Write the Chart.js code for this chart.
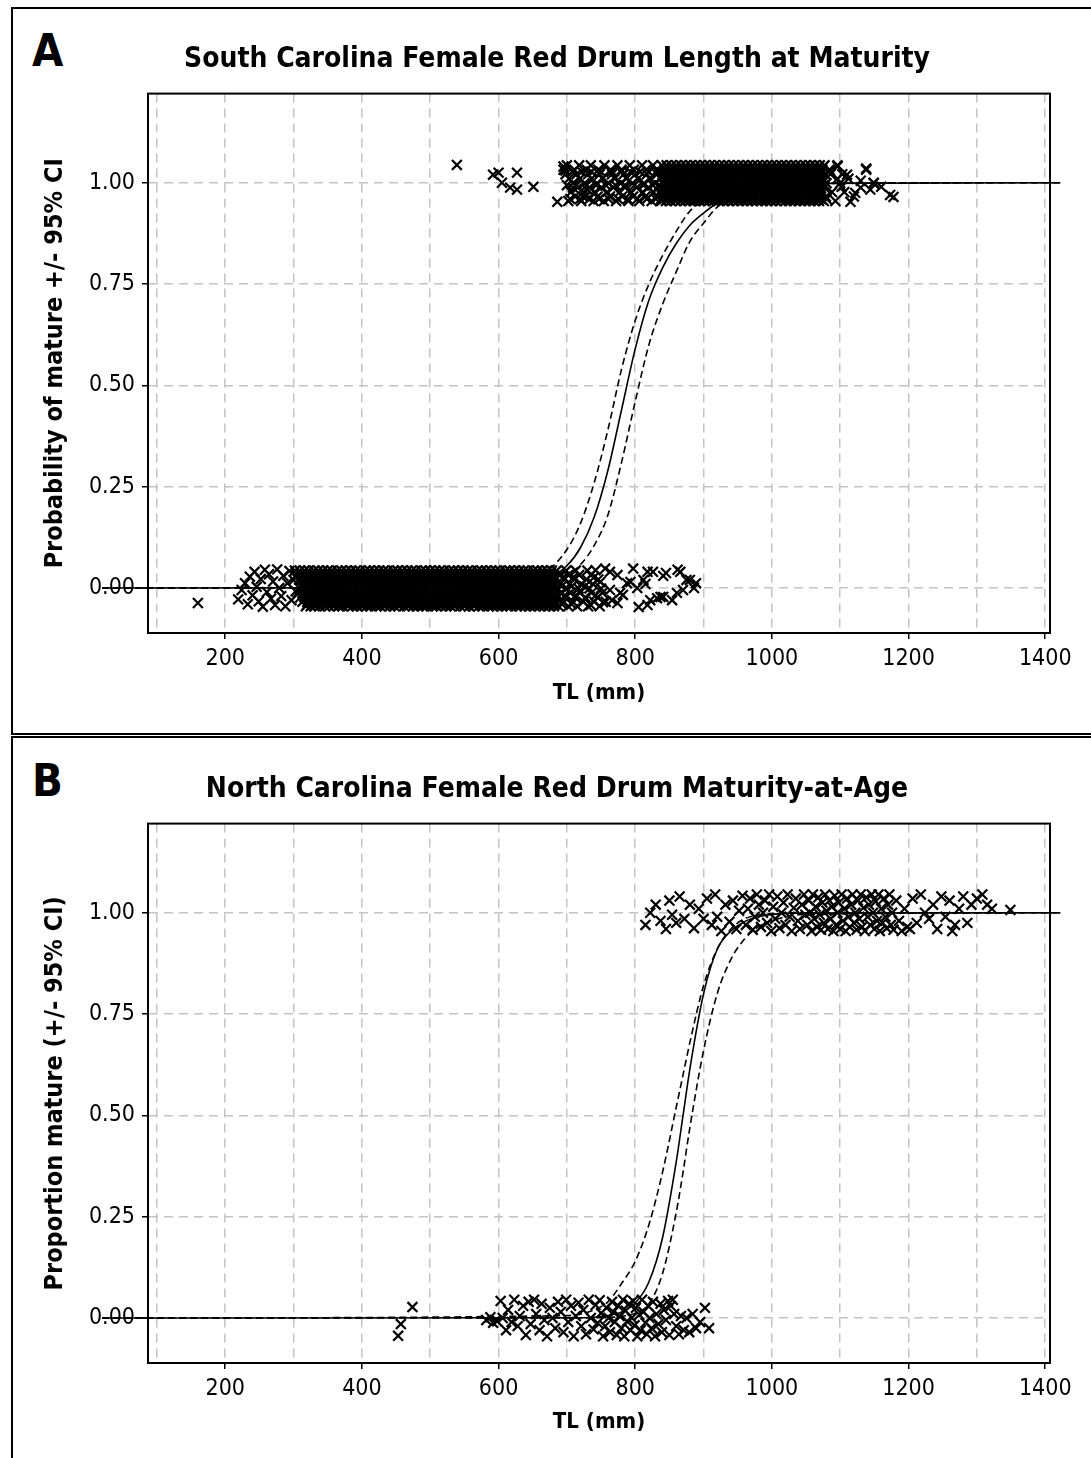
<!DOCTYPE html>
<html>
<head>
<meta charset="utf-8">
<title>Red Drum maturity</title>
<script src="https://cdn.jsdelivr.net/npm/chart.js"></script>
<style>
  html, body { margin: 0; padding: 0; background: #fff; overflow: hidden; }
  body { width: 1091px; height: 1458px; position: relative; font-family: 'DejaVu Sans Condensed', 'DejaVu Sans', sans-serif; }
  .panel { position: absolute; left: 11px; width: 1200px; border: 2px solid #000; box-sizing: border-box; }
  #boxA { top: 7px; height: 728px; }
  #boxB { top: 736px; height: 800px; }
  .letter { position: absolute; left: 32px; font-size: 45px; font-weight: bold; line-height: 1; }
  canvas { position: absolute; left: 12px; }
</style>
</head>
<body>
<div class="panel" id="boxA"></div>
<div class="panel" id="boxB"></div>
<div class="letter" style="top:28px">A</div>
<div class="letter" style="top:758px">B</div>
<canvas id="chartA" width="1079" height="725" style="top:8px"></canvas>
<canvas id="chartB" width="1079" height="720" style="top:738px"></canvas>

<script>
// axis ticks
const xGrid = [100, 200, 300, 400, 500, 600, 700, 800, 900, 1000, 1100, 1200, 1300, 1400];
const yTicks = [0, 0.25, 0.5, 0.75, 1];

// ---- South Carolina (A) ----
// jitter levels for the packed bands, and x (mm) of the crosses on each level
const scLowLevels = [-0.045, -0.034, -0.023, -0.012, -0.001, 0.010, 0.021, 0.032, 0.043, -0.040, -0.018, 0.004, 0.027];
const scLowRows = [
  [318,325,331,338,346,352,359,366,372,380,386,393,400,407,413,421,427,434,441,448,454,462,468,475,482,489,495,503,509,516,523,530,536,544,550,557,564,571,577,585,591,598,605,612,618,626,632,639,646,653,660,667,674,681,688,702,715,731,748],
  [313,320,328,334,341,349,355,362,369,376,383,389,397,403,410,417,424,431,437,445,451,458,465,472,478,486,492,499,506,513,519,527,533,540,547,554,560,568,574,581,588,595,601,609,615,622,629,636,642,650,656,663,670,677,684,694,709,724,740,757],
  [310,316,323,330,336,344,351,357,364,371,378,385,391,398,405,412,418,426,432,439,446,453,459,467,473,480,487,494,500,508,514,521,528,535,541,549,555,562,569,576,582,590,596,603,610,617,623,631,637,644,651,658,664,672,678,687,698,712,727,745],
  [306,314,321,327,334,340,348,354,361,368,374,382,388,395,402,409,415,423,429,436,443,450,456,463,470,477,483,491,497,504,511,518,524,532,538,545,552,559,565,573,579,586,593,600,606,614,620,627,634,641,647,655,661,668,675,682,691,705,719,736,752],
  [309,317,324,331,337,345,352,358,365,372,379,386,392,399,406,413,419,427,433,440,447,454,460,468,474,481,488,495,501,509,515,522,529,536,542,550,556,563,570,577,583,591,597,604,611,618,624,632,638,645,652,659,665,673,679,686,700,717,733,750],
  [312,319,326,333,339,347,353,360,367,374,380,388,394,401,408,415,421,428,435,442,449,455,462,469,476,483,489,496,503,510,517,523,531,537,544,551,558,564,572,578,585,592,599,605,613,619,626,633,640,646,654,660,667,674,681,690,704,721,738],
  [308,315,322,329,335,343,350,356,363,370,377,384,390,397,404,411,417,425,431,438,445,452,458,466,472,479,486,493,499,507,513,520,527,534,540,548,554,561,568,575,581,589,595,602,609,616,622,630,636,643,650,657,663,671,677,684,696,711,729,746],
  [304,311,318,325,332,339,346,353,359,366,373,381,387,394,400,408,414,422,428,435,442,449,455,463,469,476,483,490,496,504,510,517,524,531,537,545,551,558,565,572,578,586,592,599,606,613,619,627,633,640,647,654,660,668,674,681,689,702,718,735],
  [302,309,316,322,330,336,343,350,356,364,370,377,384,391,397,405,411,418,425,432,438,446,452,459,466,473,479,487,493,500,507,514,520,528,534,541,548,555,561,569,575,582,589,596,602,610,616,623,630,637,643,651,657,664,671,678,685,699,713,730],
  [320,329,335,344,350,361,367,377,382,391,399,404,414,420,430,436,444,452,457,467,472,481,488,496,502,511,518,524,533,539,547,553,562,567,576,583,590,597,604,611,619,625,634,640,648,655,662,669,676,683,693,707],
  [315,324,333,340,347,356,363,371,377,386,392,401,409,415,424,430,439,444,453,460,467,474,482,490,497,504,512,519,525,534,540,549,556,563,570,578,584,593,600,607,614,621,628,635,642,649,657,663,670,678,685,697,713,742],
  [311,322,327,336,343,351,358,367,373,383,389,396,404,411,419,426,433,441,448,455,463,470,477,485,491,498,506,512,520,526,535,543,549,557,563,571,579,585,594,600,608,615,622,630,637,644,651,659,666,673,680,692,707,726],
  [314,321,330,339,345,354,360,369,376,384,391,398,406,414,420,429,434,443,450,458,464,472,479,486,494,501,508,515,522,529,537,544,552,558,566,573,580,588,594,602,609,616,624,631,638,645,653,661,667,675,683,695,710,740]
];
// scattered crosses outside the packed part
const scLowLoose = [
  [160,-0.037],[219,-0.028],[224,-0.005],[229,0.012],[233,-0.04],[236,0.028],[240,-0.018],[243,0.04],[246,0.003],
  [249,-0.033],[252,0.022],[255,-0.046],[258,0.045],[261,-0.01],[264,0.034],[267,-0.026],[270,0.016],[273,-0.042],
  [276,0.046],[279,0.0],[282,-0.02],[285,0.03],[288,-0.045],[291,0.012],[294,0.042],[297,-0.03],[300,0.02],[303,-0.008],
  [735,-0.042],[742,0.044],[749,0.015],[753,-0.035],[756,0.048],[763,-0.005],[763,0.04],[766,-0.03],[774,0.032],
  [774,-0.037],[778,-0.012],[782,-0.017],[788,0.012],[793,0.015],[797,0.048],[803,0.0],[805,-0.047],[812,0.02],
  [815,0.01],[818,0.04],[818,-0.042],[822,-0.03],[826,0.04],[832,-0.025],[837,-0.022],[841,0.03],[841,-0.022],
  [845,0.037],[854,-0.03],[861,-0.012],[862,0.045],[866,0.04],[870,-0.005],[875,0.02],[880,0.02],[886,0.0],[889,0.012]
];
const scHighLevels = [0.955, 0.966, 0.977, 0.988, 0.999, 1.010, 1.021, 1.032, 1.043, 0.960, 0.994, 1.027];
const scHighRows = [
  [702,721,739,754,772,790,806,824,838,845,852,859,866,873,880,887,894,901,908,915,922,929,936,943,950,957,964,971,978,985,992,999,1006,1013,1020,1027,1034,1041,1048,1055,1062,1069,1076,1093],
  [712,728,745,763,781,797,815,831,841,848,855,862,869,876,883,890,897,904,911,918,925,932,939,946,953,960,967,974,981,988,995,1002,1009,1016,1023,1030,1037,1044,1051,1058,1065,1072,1079,1120],
  [706,724,741,759,777,794,811,827,836,843,850,857,864,871,878,885,892,899,906,913,920,927,934,941,948,955,962,969,976,983,990,997,1004,1011,1018,1025,1032,1039,1046,1053,1060,1067,1074,1088,1106],
  [716,733,750,768,785,802,819,839,846,853,860,867,874,881,888,895,902,909,916,923,930,937,944,951,958,965,972,979,986,993,1000,1007,1014,1021,1028,1035,1042,1049,1056,1063,1070,1077,1130],
  [709,726,744,761,779,796,813,829,842,849,856,863,870,877,884,891,898,905,912,919,926,933,940,947,954,961,968,975,982,989,996,1003,1010,1017,1024,1031,1038,1045,1052,1059,1066,1073,1080,1100,1149],
  [703,719,736,752,770,787,804,821,837,844,851,858,865,872,879,886,893,900,907,914,921,928,935,942,949,956,963,970,977,984,991,998,1005,1012,1019,1026,1033,1040,1047,1054,1061,1068,1075,1096,1112],
  [698,714,731,748,766,783,800,817,832,840,847,854,861,868,875,882,889,896,903,910,917,924,931,938,945,952,959,966,973,980,987,994,1001,1008,1015,1022,1029,1036,1043,1050,1057,1064,1071,1078,1086,1103],
  [695,711,729,746,764,780,798,816,833,843,850,857,864,871,878,885,892,899,906,913,920,927,934,941,948,955,962,969,976,983,990,997,1004,1011,1018,1025,1032,1039,1046,1053,1060,1067,1074,1084,1138],
  [700,718,735,755,774,792,810,826,839,846,853,860,867,874,881,888,895,902,909,916,923,930,937,944,951,958,965,972,979,986,993,1000,1007,1014,1021,1028,1035,1042,1049,1056,1063,1070,1077,1096],
  [705,719,733,747,761,775,789,803,817,830,838,847,855,862,870,878,886,893,901,909,917,924,932,940,948,955,963,971,979,986,994,1002,1010,1017,1025,1033,1041,1048,1056,1064,1072,1080],
  [700,714,729,743,757,771,785,799,812,826,835,843,851,859,866,874,882,890,897,905,913,921,928,936,944,952,959,967,975,983,990,998,1006,1014,1021,1029,1037,1045,1052,1060,1068,1076],
  [708,722,736,750,765,779,793,807,820,833,840,848,856,864,871,879,887,895,902,910,918,926,933,941,949,957,964,972,980,988,995,1003,1011,1019,1026,1034,1042,1050,1057,1065,1073]
];
const scHighLoose = [
  [539,1.044],[592,1.02],[600,1.025],[605,1.0],[617,0.988],[627,1.025],[627,0.983],[651,0.99],[686,0.953],
  [695,1.04],[698,1.03],[709,0.988],[724,0.965],[730,0.983],
  [1085,1.03],[1096,1.04],[1102,0.99],[1110,1.02],[1115,0.953],[1122,0.975],[1130,1.005],[1138,1.035],
  [1144,0.983],[1149,1.0],[1160,0.99],[1173,0.97],[1178,0.965]
];
// fitted curve and 95% CI, read at these lengths
const scFitX   = [20, 560, 600, 640, 670, 700, 720, 740, 760, 780, 800, 820, 840, 860, 880, 900, 920, 950, 1000, 1060, 1422];
const scFit    = [0, 0.001, 0.003, 0.01, 0.022, 0.055, 0.10, 0.175, 0.29, 0.44, 0.59, 0.71, 0.79, 0.85, 0.895, 0.925, 0.95, 0.972, 0.99, 0.998, 1];
const scUpper  = [0, 0.002, 0.005, 0.016, 0.04, 0.095, 0.16, 0.26, 0.39, 0.54, 0.66, 0.75, 0.82, 0.88, 0.93, 0.955, 0.97, 0.985, 0.995, 0.999, 1];
const scLower  = [0, 0.0005, 0.001, 0.004, 0.012, 0.03, 0.058, 0.105, 0.18, 0.31, 0.46, 0.6, 0.7, 0.78, 0.855, 0.9, 0.94, 0.968, 0.99, 0.998, 1];

// ---- North Carolina (B) ----
const ncLow = [
  [453,-0.044],[457,-0.015],[474,0.027],
  [582,-0.005],[588,0.002],[592,-0.012],[598,-0.008],[603,0.042],[606,0.0],[611,-0.03],[614,0.02],[619,-0.01],
  [623,0.045],[628,-0.02],[631,0.005],[636,0.03],[640,-0.042],[644,0.04],[647,-0.015],[652,0.045],[655,0.01],
  [660,-0.03],[663,0.035],[667,-0.005],[671,-0.045],[675,0.025],[679,0.0],[683,-0.025],[687,0.04],[691,0.015],
  [695,-0.035],[699,0.045],[702,-0.01],[706,0.03],[710,-0.045],[713,0.005],[717,0.038],[721,-0.02],[724,0.02],
  [728,-0.04],[732,0.045],[735,0.0],[739,-0.028],[742,0.032],[745,-0.012],[748,0.044],[750,0.012],[753,-0.045],
  [756,-0.02],[758,0.025],[761,0.0],[763,-0.035],[766,0.04],[768,0.015],[770,-0.01],[773,-0.042],[775,0.03],
  [777,0.005],[780,-0.025],[782,0.045],[784,-0.045],[786,0.018],[788,-0.008],[791,0.035],[793,-0.03],[795,0.0],
  [797,0.042],[799,-0.018],[801,0.025],[803,-0.045],[806,0.008],[808,-0.03],[810,0.045],[812,0.015],[815,-0.012],
  [817,-0.04],[819,0.03],[821,0.0],[824,-0.025],[826,0.04],[829,-0.045],[831,0.01],[834,-0.015],[837,0.035],
  [839,-0.035],[842,0.02],[845,-0.005],[848,0.042],[850,-0.042],[852,0.03],[855,0.045],[857,0.01],[860,-0.02],
  [864,-0.04],[867,0.005],[871,-0.03],[875,0.0],[879,-0.035],[884,0.01],[889,-0.025],[895,-0.01],[902,0.025],[908,-0.025]
];
const ncHigh = [
  [815,0.97],[822,1.0],[830,1.02],[837,0.98],[845,0.96],[850,1.03],[854,0.995],[860,0.975],[865,1.04],[872,0.985],
  [880,1.02],[886,0.962],[893,1.01],[900,0.985],[905,1.035],[912,0.97],[917,1.045],[920,0.99],[926,0.955],[932,1.02],
  [938,0.978],[943,1.03],[948,0.96],[952,1.005],[957,1.042],[962,0.97],[965,1.01],[968,1.035],[972,0.958],[975,0.99],
  [978,1.045],[981,1.02],[984,0.965],[987,1.0],[990,1.03],[993,0.975],[996,1.045],[999,0.955],[1002,1.015],[1005,0.985],
  [1008,1.04],[1011,0.962],[1014,1.0],[1017,1.025],[1020,0.97],[1023,1.045],[1026,0.99],[1029,0.955],[1032,1.012],
  [1035,1.035],[1038,0.98],[1041,0.96],[1044,1.02],[1047,1.045],[1049,0.995],
  [1052,0.97],[1054,1.03],[1056,1.0],[1058,0.955],[1060,1.045],[1062,0.985],[1064,1.015],[1066,0.965],[1068,1.038],
  [1070,0.995],[1072,0.958],[1074,1.025],[1076,0.975],[1078,1.045],[1080,1.005],[1082,0.96],[1084,1.03],[1086,0.985],
  [1088,1.015],[1090,0.955],[1092,1.042],[1094,0.97],[1096,1.0],[1098,1.025],[1100,0.96],[1102,1.045],[1104,0.98],
  [1106,1.01],[1108,0.955],[1110,1.035],[1112,0.99],[1114,0.965],[1116,1.02],[1118,1.045],[1120,0.975],[1122,1.0],
  [1124,0.958],[1126,1.03],[1128,0.985],[1130,1.045],[1132,0.965],[1134,1.012],[1136,0.955],[1138,1.038],[1140,0.99],
  [1142,1.02],[1144,0.97],[1146,1.045],[1148,1.0],[1150,0.96],[1152,1.028],[1154,0.98],[1156,1.045],[1158,0.955],
  [1160,1.01],[1162,0.975],[1164,1.035],[1166,0.99],[1168,0.962],[1170,1.02],[1172,1.045],[1174,0.97],[1176,1.0],[1178,0.958],
  [1182,1.03],[1186,0.98],[1190,0.955],[1194,1.01],[1198,0.965],[1202,0.96],[1206,1.035],[1212,0.975],[1218,1.045],
  [1224,1.0],[1230,0.985],[1236,1.02],[1242,0.96],[1248,1.04],[1254,0.99],[1260,1.03],[1264,0.955],[1268,0.97],
  [1274,1.01],[1280,1.04],[1286,0.975],[1292,1.02],[1300,1.035],[1308,1.045],[1315,1.02],[1322,1.01],[1349,1.007]
];
const ncFitX  = [20, 700, 740, 760, 780, 800, 820, 840, 860, 870, 880, 900, 920, 940, 960, 980, 1000, 1040, 1422];
const ncFit   = [0, 0.0005, 0.002, 0.006, 0.015, 0.037, 0.089, 0.198, 0.385, 0.5, 0.615, 0.80, 0.91, 0.955, 0.978, 0.99, 0.996, 0.999, 1];
const ncUpper = [0, 0.006, 0.02, 0.04, 0.085, 0.14, 0.23, 0.36, 0.52, 0.6, 0.68, 0.82, 0.91, 0.96, 0.985, 0.994, 0.998, 1, 1];
const ncLower = [0, 0, 0.0005, 0.001, 0.004, 0.012, 0.035, 0.11, 0.26, 0.36, 0.47, 0.66, 0.8, 0.885, 0.935, 0.965, 0.98, 0.995, 1];

const FONT = "'DejaVu Sans Condensed', 'DejaVu Sans', sans-serif";
Chart.defaults.font.family = FONT;
Chart.defaults.color = '#000';

function fromRows(levels, rows) {
  const pts = [];
  rows.forEach((xs, i) => xs.forEach(x => pts.push({x: x, y: levels[i]})));
  return pts;
}
function fromPairs(pairs) {
  return pairs.map(p => ({x: p[0], y: p[1]}));
}
function curve(xs, ys) {
  return xs.map((x, i) => ({x: x, y: ys[i]}));
}

// box round the plot area
const frame = {
  id: 'frame',
  afterDraw(chart) {
    const a = chart.chartArea, ctx = chart.ctx;
    ctx.save();
    ctx.strokeStyle = '#000';
    ctx.lineWidth = 2;
    ctx.strokeRect(a.left, a.top, a.right - a.left, a.bottom - a.top);
    ctx.restore();
  }
};

function drawPanel(id, p) {
  const lineDs = (ys, dash) => ({
    type: 'line', data: curve(p.fitX, ys), borderColor: '#000', borderWidth: 1.6,
    borderDash: dash, pointRadius: 0, fill: false, cubicInterpolationMode: 'monotone', clip: false
  });
  return new Chart(document.getElementById(id), {
    type: 'scatter',
    data: {
      datasets: [
        { data: p.points, pointStyle: 'crossRot', pointRadius: 7, pointHoverRadius: 7,
          pointBorderWidth: 2.2, borderColor: '#000', backgroundColor: '#000' },
        lineDs(p.fit, []),
        lineDs(p.upper, [7, 4]),
        lineDs(p.lower, [7, 4])
      ]
    },
    options: {
      responsive: false,
      animation: false,
      devicePixelRatio: 1,
      layout: { padding: { left: 52, right: 41, top: 0, bottom: 0 } },
      plugins: {
        legend: { display: false },
        tooltip: { enabled: false },
        title: {
          display: true, text: p.title, color: '#000',
          font: { size: 28, weight: 'bold' },
          padding: { top: 35, bottom: 17 }
        }
      },
      scales: {
        x: {
          type: 'linear', min: 87, max: 1407,
          afterBuildTicks: s => { s.ticks = xGrid.map(v => ({value: v})); },
          afterFit: s => { s.height = p.xAxisHeight; },
          ticks: { callback: v => (v % 200 === 0 ? String(v) : ''), font: { size: 23 }, padding: 6, maxRotation: 0, autoSkip: false },
          grid: {
            color: '#c4c4c4', lineWidth: 1.5, tickLength: 6, tickWidth: 1.5,
            tickColor: c => (c.tick && c.tick.value % 200 === 0 ? '#000' : 'rgba(0,0,0,0)'),
            tickBorderDash: []
          },
          border: { display: true, color: '#000', width: 2, dash: [9, 6] },
          title: { display: true, text: 'TL (mm)', font: { size: 22, weight: 'bold' }, padding: { bottom: p.xTitlePad } }
        },
        y: {
          type: 'linear', min: -0.111, max: 1.22,
          afterBuildTicks: s => { s.ticks = yTicks.map(v => ({value: v})); },
          afterFit: s => { s.width = 84; },
          ticks: { callback: v => v.toFixed(2), font: { size: 23 }, padding: 7 },
          grid: { color: '#c4c4c4', lineWidth: 1.5, tickLength: 6, tickWidth: 1.5, tickColor: '#000', tickBorderDash: [] },
          border: { display: true, color: '#000', width: 2, dash: [9, 6] },
          title: { display: true, text: p.yTitle, font: { size: 25, weight: 'bold' }, padding: { top: -24 } }
        }
      }
    },
    plugins: [frame]
  });
}

drawPanel('chartA', {
  title: 'South Carolina Female Red Drum Length at Maturity',
  yTitle: 'Probability of mature +/- 95% CI',
  points: fromPairs(scLowLoose).concat(fromRows(scLowLevels, scLowRows), fromRows(scHighLevels, scHighRows), fromPairs(scHighLoose)),
  fitX: scFitX, fit: scFit, upper: scUpper, lower: scLower,
  xAxisHeight: 100, xTitlePad: 27
});

drawPanel('chartB', {
  title: 'North Carolina Female Red Drum Maturity-at-Age',
  yTitle: 'Proportion mature (+/- 95% CI)',
  points: fromPairs(ncLow).concat(fromPairs(ncHigh)),
  fitX: ncFitX, fit: ncFit, upper: ncUpper, lower: ncLower,
  xAxisHeight: 95, xTitlePad: 23
});
</script>
</body>
</html>
